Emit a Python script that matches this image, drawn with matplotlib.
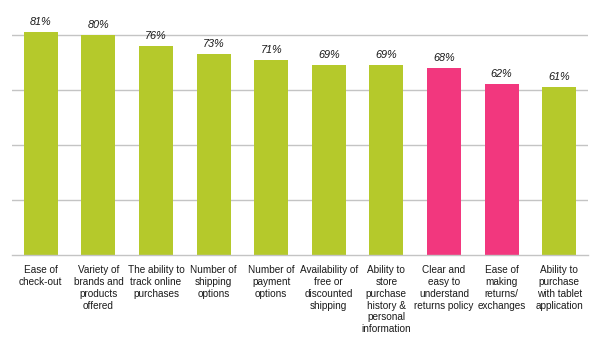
import numpy as np
import matplotlib.pyplot as plt

plt.rcParams['font.family'] = ['Liberation Sans', 'DejaVu Sans']

# Datos
categorias = [
    "Ease of\ncheck-out",
    "Variety of\nbrands and\nproducts\noffered",
    "The ability to\ntrack online\npurchases",
    "Number of\nshipping\noptions",
    "Number of\npayment\noptions",
    "Availability of\nfree or\ndiscounted\nshipping",
    "Ability to\nstore\npurchase\nhistory &\npersonal\ninformation",
    "Clear and\neasy to\nunderstand\nreturns policy",
    "Ease of\nmaking\nreturns/\nexchanges",
    "Ability to\npurchase\nwith tablet\napplication",
]
valores = [81, 80, 76, 73, 71, 69, 69, 68, 62, 61]
destacado = [False, False, False, False, False, False, False, True, True, False]

verde = "#B5C92B"
rosa = "#F2377E"
colores = [rosa if d else verde for d in destacado]

fig = plt.figure(figsize=(6, 3.38), dpi=100)
ax = fig.add_axes([0.02, 0.2456, 0.96, 0.7544])

x = np.arange(len(valores))
ax.bar(x, valores, width=0.59, color=colores, zorder=2)

# Etiquetas de valor
for xi, v in zip(x, valores):
    ax.text(xi, v + 1.8, f"{v}%", ha="center", va="bottom",
            fontsize=7.8, style="italic", color="#1a1a1a")

ax.set_xlim(-0.5, len(valores) - 0.5)
ax.set_ylim(0, 92.7)
ax.set_yticks([20, 40, 60, 80])
ax.yaxis.grid(True, color="#C4C4C4", linewidth=1.0, zorder=0)
ax.tick_params(left=False, labelleft=False, bottom=False)

ax.set_xticks(x)
ax.set_xticklabels(categorias, fontsize=7.2, linespacing=1.22, va="top",
                   color="#1a1a1a")
ax.tick_params(axis="x", pad=4)

for s in ["top", "right", "left"]:
    ax.spines[s].set_visible(False)
ax.spines["bottom"].set_color("#C4C4C4")
ax.spines["bottom"].set_linewidth(1.0)

fig.savefig("out.png", dpi=100)
